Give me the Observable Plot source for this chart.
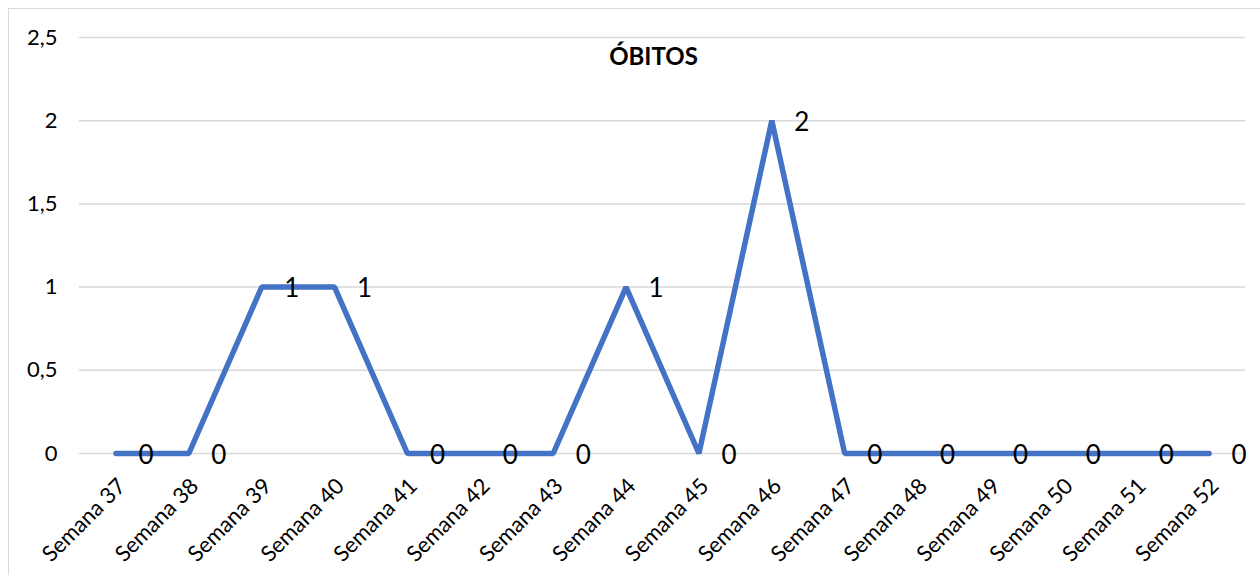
<!DOCTYPE html>
<html>
<head>
<meta charset="utf-8">
<script src="https://cdn.jsdelivr.net/npm/d3@7"></script>
<script src="https://cdn.jsdelivr.net/npm/@observablehq/plot@0.6"></script>
<style>
  html, body { margin: 0; padding: 0; background: #fff; width: 1260px; height: 575px; overflow: hidden; }
  #frame { position: absolute; left: 8px; top: 8px; width: 1300px; height: 650px; border: 1.5px solid #d9d9d9; box-sizing: border-box; }
  #chart { position: absolute; left: 0; top: 0; }
</style>
</head>
<body>
<div id="frame"></div>
<div id="chart"></div>
<script>
const semanas = ["Semana 37","Semana 38","Semana 39","Semana 40","Semana 41","Semana 42","Semana 43","Semana 44","Semana 45","Semana 46","Semana 47","Semana 48","Semana 49","Semana 50","Semana 51","Semana 52"];
const obitos = [0,0,1,1,0,0,0,1,0,2,0,0,0,0,0,0];
const yTicks = [0, 0.5, 1, 1.5, 2, 2.5];
const title = "ÓBITOS";

const data = semanas.map((s, i) => ({semana: s, valor: obitos[i]}));
const fmt = v => String(v).replace(".", ",");
const font = "Lato, 'Open Sans', sans-serif";

const chart = Plot.plot({
  width: 1260,
  height: 575,
  marginLeft: 79,
  marginRight: 15,
  marginTop: 37,
  marginBottom: 122,
  style: {fontFamily: font, background: "transparent", color: "#000"},
  x: {type: "point", domain: semanas, padding: 0.5, round: false},
  y: {domain: [0, 2.5]},
  marks: [
    Plot.gridY(yTicks, {stroke: "#d9d9d9", strokeOpacity: 1, strokeWidth: 1.5}),
    Plot.axisY(yTicks, {tickSize: 0, tickPadding: 22, tickFormat: fmt, fontSize: 22, label: null}),
    Plot.axisX({tickSize: 0, tickRotate: -45, tickPadding: 29, dx: 6, textAnchor: "end", lineAnchor: "middle", fontSize: 22, label: null}),
    Plot.line(data, {x: "semana", y: "valor", stroke: "#4472C4", strokeWidth: 5.5, strokeLinejoin: "miter", strokeLinecap: "round"}),
    Plot.text(data, {x: "semana", y: "valor", text: d => fmt(d.valor), dx: 30, dy: 2, fontSize: 26, fill: "#000", textAnchor: "middle", lineAnchor: "middle"}),
    Plot.text([title], {frameAnchor: "top", dx: -9, dy: 20, text: d => d, fontSize: 24, fontWeight: "bold", fill: "#000", lineAnchor: "middle"})
  ]
});
document.getElementById("chart").appendChild(chart);
</script>
</body>
</html>
